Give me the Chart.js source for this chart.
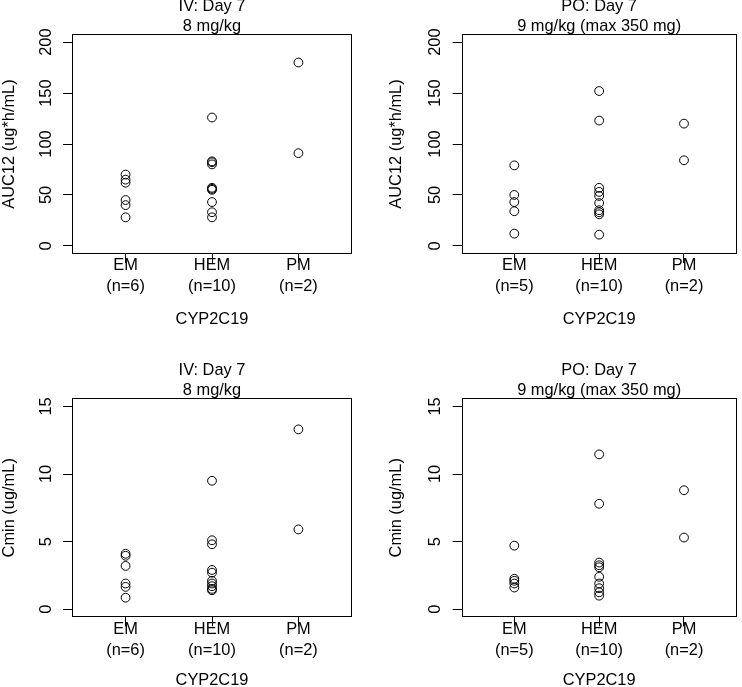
<!DOCTYPE html>
<html><head><meta charset="utf-8">
<script src="https://cdn.jsdelivr.net/npm/chart.js@4.4.0/dist/chart.umd.min.js"></script>
<style>
html,body{margin:0;padding:0;background:#fff;overflow:hidden;width:742px;height:687px;}
canvas{position:absolute;}
</style></head><body>
<canvas id="c1"></canvas><canvas id="c2"></canvas><canvas id="c3"></canvas><canvas id="c4"></canvas>
<script>
// ---- data ----
const categories = ['EM', 'HEM', 'PM'];
const nIV = ['(n=6)', '(n=10)', '(n=2)'];
const nPO = ['(n=5)', '(n=10)', '(n=2)'];
const aucTicks = [0, 50, 100, 150, 200];
const cminTicks = [0, 5, 10, 15];
const titlesIV = ['IV: Day 7', '8 mg/kg'];
const titlesPO = ['PO: Day 7', '9 mg/kg (max 350 mg)'];
const xTitle = 'CYP2C19';
const aucTitle = 'AUC12 (ug*h/mL)';
const cminTitle = 'Cmin (ug/mL)';

const ivAucEM = [70, 65, 62, 45, 40, 28];
const ivAucHEM = [126, 83, 82, 80, 57, 56, 55, 43, 33, 28];
const ivAucPM = [180, 91];
const poAucEM = [79, 50, 43, 34, 12];
const poAucHEM = [152, 123, 57, 53, 49, 42, 35, 33, 31, 11];
const poAucPM = [120, 84];
const ivCminEM = [4.1, 3.95, 3.2, 1.9, 1.65, 0.85];
const ivCminHEM = [9.5, 5.1, 4.8, 2.9, 2.7, 2.1, 1.9, 1.7, 1.5, 1.4];
const ivCminPM = [13.3, 5.9];
const poCminEM = [4.7, 2.25, 2.1, 1.9, 1.6];
const poCminHEM = [11.45, 7.8, 3.45, 3.25, 3.1, 2.4, 1.9, 1.55, 1.25, 1.0];
const poCminPM = [8.8, 5.3];

// ---- layout ----
const FONT = '"Liberation Sans", Arial, Helvetica, sans-serif';
const FS = 16.4;
const panels = [
  {id:'c1', left:0, top:0, w:371, h:343, box:{l:72, r:352, t:34, b:254}, ytp:0, xtOff:66,
   groups:[ivAucEM, ivAucHEM, ivAucPM], nl:nIV, titles:titlesIV, yTitle:aucTitle, yTicks:aucTicks, ymin:-8, ymax:208},
  {id:'c2', left:371, top:0, w:371, h:343, box:{l:90.7, r:370, t:34, b:254}, ytp:16.5, xtOff:66,
   groups:[poAucEM, poAucHEM, poAucPM], nl:nPO, titles:titlesPO, yTitle:aucTitle, yTicks:aucTicks, ymin:-8, ymax:208},
  {id:'c3', left:0, top:343, w:371, h:344, box:{l:72, r:352, t:55.3, b:274.3}, ytp:0, xtOff:63,
   groups:[ivCminEM, ivCminHEM, ivCminPM], nl:nIV, titles:titlesIV, yTitle:cminTitle, yTicks:cminTicks, ymin:-0.6, ymax:15.6},
  {id:'c4', left:371, top:343, w:371, h:344, box:{l:90.7, r:370, t:55.3, b:274.3}, ytp:16.5, xtOff:63,
   groups:[poCminEM, poCminHEM, poCminPM], nl:nPO, titles:titlesPO, yTitle:cminTitle, yTicks:cminTicks, ymin:-0.6, ymax:15.6}
];

const panelPlugin = {
  id: 'panel',
  afterDraw(chart, args, opts) {
    const ctx = chart.ctx, a = chart.chartArea, ys = chart.scales.y;
    ctx.save();
    ctx.strokeStyle = '#000'; ctx.lineWidth = 1;
    const L = Math.round(a.left) + 0.5, R = Math.round(a.right) - 0.5;
    const T = Math.round(a.top) + 0.5, B = Math.round(a.bottom) - 0.5;
    ctx.strokeRect(L, T, R - L, B - T);
    ctx.fillStyle = '#000';
    ctx.font = FS + 'px ' + FONT;
    ctx.textAlign = 'center'; ctx.textBaseline = 'middle';
    // y tick labels (rotated, as in the reference)
    opts.yTicks.forEach(v => {
      const py = ys.getPixelForValue(v);
      ctx.save();
      ctx.translate(a.left - 26, py);
      ctx.rotate(-Math.PI / 2);
      ctx.fillText(String(v), 0, 0);
      ctx.restore();
    });
    // two-line title
    const cx = (a.left + a.right) / 2;
    ctx.fillText(opts.titles[0], cx, a.top - 27.5);
    ctx.fillText(opts.titles[1], cx, a.top - 7.5);
    ctx.restore();
  }
};

panels.forEach(p => {
  const cv = document.getElementById(p.id);
  cv.width = p.w; cv.height = p.h;
  cv.style.left = p.left + 'px'; cv.style.top = p.top + 'px';
  cv.style.width = p.w + 'px'; cv.style.height = p.h + 'px';
  const xH = p.h - p.box.b;
  const datasets = p.groups.map((g, i) => ({
    data: g.map(v => ({x: i + 1, y: v})),
    pointStyle: 'circle', pointRadius: 4.4, pointBorderWidth: 1,
    borderColor: '#000', backgroundColor: 'rgba(0,0,0,0)', showLine: false
  }));
  new Chart(cv, {
    type: 'scatter',
    data: {datasets},
    plugins: [panelPlugin],
    options: {
      responsive: false, animation: false, devicePixelRatio: 1,
      events: [],
      layout: {padding: {top: p.box.t, left: 0, right: p.w - p.box.r, bottom: 0}},
      plugins: {legend: {display: false}, tooltip: {enabled: false}, title: {display: false},
                panel: {yTicks: p.yTicks, titles: p.titles}},
      scales: {
        x: {
          type: 'linear', min: 0.38, max: 3.62,
          afterBuildTicks: s => { s.ticks = [1, 2, 3].map(v => ({value: v})); },
          afterFit: s => { s.height = xH; },
          ticks: {
            callback: (v) => [categories[Math.round(v) - 1], p.nl[Math.round(v) - 1]],
            font: {family: FONT, size: FS, lineHeight: 1.28}, color: '#000',
            padding: -7.7, maxRotation: 0, minRotation: 0, autoSkip: false
          },
          grid: {drawOnChartArea: false, drawTicks: true, tickLength: 9, color: '#000', lineWidth: 1},
          border: {display: false},
          title: {display: true, text: xTitle, color: '#000',
                  font: {family: FONT, size: FS, lineHeight: 1.15},
                  padding: {top: 0, bottom: xH - p.xtOff - 9.4}}
        },
        y: {
          type: 'linear', min: p.ymin, max: p.ymax,
          afterBuildTicks: s => { s.ticks = p.yTicks.map(v => ({value: v})); },
          afterFit: s => { s.width = p.box.l; },
          ticks: {display: false},
          grid: {drawOnChartArea: false, drawTicks: true, tickLength: 9, color: '#000', lineWidth: 1},
          border: {display: false},
          title: {display: true, text: p.yTitle, color: '#000',
                  font: {family: FONT, size: FS, lineHeight: 1.15},
                  padding: {top: p.ytp, bottom: 0}}
        }
      }
    }
  });
});
</script>
</body></html>
